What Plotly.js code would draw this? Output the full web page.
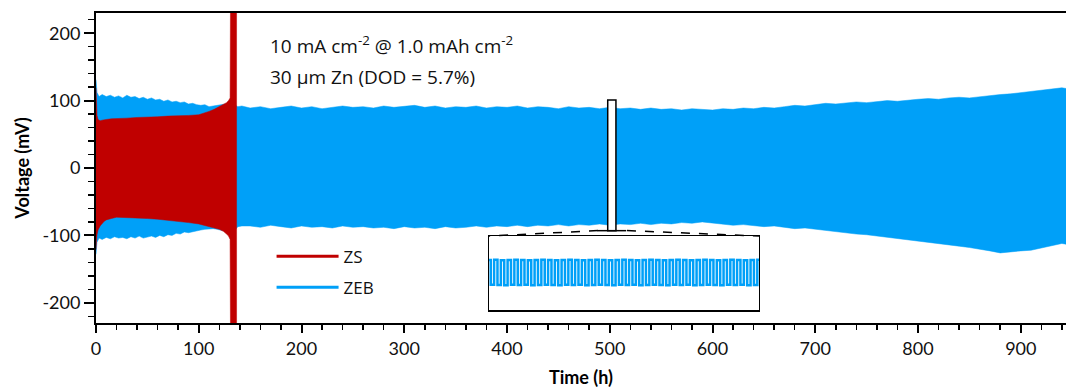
<!DOCTYPE html>
<html>
<head>
<meta charset="utf-8">
<script src="https://cdn.plot.ly/plotly-3.0.1.min.js"></script>
<style>html,body{margin:0;padding:0;background:#fff}#chart{width:1066px;height:389px}</style>
</head>
<body>
<div id="chart"></div>
<script>
// ---- Data ----
// ZEB (blue) envelope: time (h), upper and lower voltage (mV)
const zebTime = [0,1,3,6,10,14,18,22,26,30,34,38,42,46,50,54,58,62,66,70,74,78,82,86,90,94,98,102,106,110,114,118,122,126,130,134,138,142,
  150,160,170,180,190,200,210,220,230,240,250,260,270,280,290,300,310,320,330,340,350,360,370,380,390,400,410,420,430,440,450,460,470,480,490,500,
  510,520,530,540,550,560,570,580,590,600,610,620,630,640,650,660,670,680,690,700,710,720,730,740,750,760,770,780,790,800,810,820,830,840,850,860,
  870,880,890,900,910,920,930,940,944];
const zebUpper = [131,112,106,109,106,108,105,107,104,108,105,106,103,105,102,104,101,102,99,101,98,99,97,98,95,96,94,93,94,91,92,93,94,95,96,95,91,92,
  89,91,88,90,92,89,91,88,90,92,90,91,89,92,90,91,93,90,92,89,91,90,92,89,91,90,92,89,91,90,88,91,89,90,88,90,
  88,89,87,89,87,88,86,88,87,86,88,87,89,88,90,89,91,93,92,94,96,95,97,98,97,99,100,99,101,102,103,102,104,105,104,106,
  108,109,110,112,113,115,117,119,118];
const zebLower = [-128,-110,-104,-106,-103,-105,-102,-104,-103,-105,-102,-104,-101,-104,-103,-101,-103,-100,-102,-99,-100,-97,-98,-95,-96,-94,-93,-92,-91,-90,-90,-91,-92,-94,-96,-95,-87,-86,
  -86,-88,-85,-87,-89,-86,-88,-87,-89,-86,-88,-87,-89,-88,-90,-87,-89,-88,-90,-87,-89,-88,-86,-88,-86,-87,-85,-87,-85,-86,-84,-86,-84,-85,-83,-85,
  -83,-84,-82,-84,-82,-83,-81,-82,-80,-82,-83,-85,-84,-86,-87,-86,-88,-90,-89,-91,-93,-95,-96,-98,-99,-101,-103,-104,-106,-108,-110,-112,-114,-116,-118,-120,
  -123,-126,-125,-123,-122,-118,-115,-112,-113];

// ZS (red) envelope: time (h), upper and lower voltage (mV); short-circuit spike near 131-137 h
const zsTime  = [0,0.5,1,2,4,6,8,10,15,20,25,30,40,50,60,70,80,90,100,105,110,115,120,124,127,129,130.5,131.3,136.8];
const zsUpper = [119,95,78,72,70,71,72,72,73,73,74,74,75,75,76,77,77,78,79,81,84,87,91,94,97,100,104,400,400];
const zsLower = [-121,-108,-99,-92,-86,-82,-79,-77,-75,-73,-73,-74,-74,-75,-76,-77,-79,-81,-83,-85,-87,-89,-91,-94,-98,-101,-106,-400,-400];

// Inset: zoomed ZEB window (h) and voltage samples every 0.1 h (mV)
const insetWindow = [498, 506];
const insetWindowV = [-93, 101];
const insetStep = 0.1;
const insetV = [88,-87,89,-88,87,-89,88,-87,89,-88,88,-87,87,-89,88,-88,89,-87,88,-88,87,-89,88,-87,89,-88,88,-87,87,-89,
  88,-88,89,-87,88,-88,87,-89,88,-87,89,-88,88,-87,87,-89,88,-88,89,-87,88,-88,87,-89,88,-87,89,-88,88,-87,
  87,-89,88,-88,89,-87,88,-88,87,-89,88,-87,89,-88,88,-87,87,-89,88,-88,89];

// Tick labels
const xTickVals = [0,100,200,300,400,500,600,700,800,900];
const xTickText = ['0','100','200','300','400','500','600','700','800','900'];
const yTickVals = [-200,-100,0,100,200];
const yTickText = ['-200','-100','0','100','200'];

const seriesNames = ['ZS', 'ZEB'];
const noteLines = ['10 mA cm<sup>-2</sup> @ 1.0 mAh cm<sup>-2</sup>', '30 µm Zn (DOD = 5.7%)'];

// ---- Styling ----
const RED = '#C00000', BLUE = '#00A0F8';
const FONT = 'Lato, "Open Sans", sans-serif';
const NOTEFONT = '"Open Sans", Lato, sans-serif';

function band(t, up, lo) {
  return { x: t.concat(t.slice().reverse()), y: up.concat(lo.slice().reverse()) };
}
const zebBand = band(zebTime, zebUpper, zebLower);
const zsBand = band(zsTime, zsUpper, zsLower);

const traces = [
  { x: zebBand.x, y: zebBand.y, type: 'scatter', mode: 'lines', fill: 'toself',
    fillcolor: BLUE, line: { color: BLUE, width: 0.5 }, showlegend: false, hoverinfo: 'skip' },
  { x: zsBand.x, y: zsBand.y, type: 'scatter', mode: 'lines', fill: 'toself',
    fillcolor: RED, line: { color: RED, width: 0.5 }, showlegend: false, hoverinfo: 'skip' },
  { x: [null], y: [null], type: 'scatter', mode: 'lines', name: seriesNames[0],
    line: { color: RED, width: 3 }, legendgroup: 'a' },
  { x: [null], y: [null], type: 'scatter', mode: 'lines', name: seriesNames[1],
    line: { color: BLUE, width: 3 }, legendgroup: 'b' },
  { x0: insetWindow[0], dx: insetStep, y: insetV, type: 'scatter', mode: 'lines',
    xaxis: 'x2', yaxis: 'y2', line: { color: BLUE, width: 2.5, shape: 'hvh' }, showlegend: false, hoverinfo: 'skip' }
];

const layout = {
  width: 1066, height: 389,
  margin: { l: 96, r: 0, t: 13, b: 66 },
  paper_bgcolor: '#fff', plot_bgcolor: '#fff',
  font: { family: FONT, size: 18, color: '#111' },
  showlegend: true,
  legend: { x: 0.181, y: 0.272, xanchor: 'left', yanchor: 'top', bgcolor: 'rgba(0,0,0,0)',
            font: { family: NOTEFONT, size: 17, color: '#111' }, itemwidth: 62, traceorder: 'grouped', tracegroupgap: 6 },
  xaxis: {
    domain: [0, 1], range: [0, 944], tickmode: 'array', tickvals: xTickVals, ticktext: xTickText,
    ticks: 'outside', ticklen: 8, tickwidth: 2,
    tickcolor: '#000', showline: true, linewidth: 2, linecolor: '#000', mirror: true,
    showgrid: false, zeroline: false, tickfont: { family: FONT, size: 18, color: '#111' },
    minor: { dtick: 20, tick0: 0, ticks: 'outside', ticklen: 5, tickwidth: 1.5, tickcolor: '#000', showgrid: false },
    title: { text: '<b>Time (h)</b>', font: { family: FONT, size: 18, color: '#000' }, standoff: 14 }
  },
  yaxis: {
    range: [-230, 230], tickmode: 'array', tickvals: yTickVals, ticktext: yTickText,
    ticks: 'outside', ticklen: 10, tickwidth: 2,
    tickcolor: '#000', showline: true, linewidth: 2, linecolor: '#000', mirror: false,
    showgrid: false, zeroline: false, tickfont: { family: FONT, size: 18, color: '#111' },
    minor: { dtick: 20, tick0: 0, ticks: 'outside', ticklen: 6, tickwidth: 1.5, tickcolor: '#000', showgrid: false },
    title: { text: '<b>Voltage (mV)</b>', font: { family: FONT, size: 18, color: '#000' }, standoff: 8 }
  },
  xaxis2: {
    domain: [0.4052, 0.6835], anchor: 'y2', range: insetWindow, showticklabels: false, ticks: '',
    showline: true, mirror: true, linewidth: 1.5, linecolor: '#000', showgrid: false, zeroline: false
  },
  yaxis2: {
    domain: [0.0419, 0.2806], anchor: 'x2', range: [-264, 257], showticklabels: false, ticks: '',
    showline: true, mirror: true, linewidth: 1.5, linecolor: '#000', showgrid: false, zeroline: false
  },
  shapes: [
    { type: 'rect', xref: 'x', yref: 'y', x0: insetWindow[0], x1: insetWindow[1], y0: insetWindowV[0], y1: insetWindowV[1],
      line: { color: '#000', width: 1.5 }, fillcolor: 'rgba(255,255,255,1)' },
    { type: 'line', xref: 'x', yref: 'y', x0: insetWindow[0] - 10, x1: insetWindow[1] + 10, y0: insetWindowV[0], y1: insetWindowV[0],
      line: { color: '#000', width: 1.5 } },
    { type: 'line', xref: 'paper', yref: 'paper', x0: 0.5175, y0: 0.298, x1: 0.4052, y1: 0.2806,
      line: { color: '#000', width: 1.5, dash: 'dash' } },
    { type: 'line', xref: 'paper', yref: 'paper', x0: 0.5474, y0: 0.298, x1: 0.6835, y1: 0.2806,
      line: { color: '#000', width: 1.5, dash: 'dash' } }
  ],
  annotations: [
    { xref: 'paper', yref: 'paper', x: 0.1773, y: 0.897, xanchor: 'left', yanchor: 'middle', showarrow: false,
      text: noteLines[0], font: { family: NOTEFONT, size: 19, color: '#111' } },
    { xref: 'paper', yref: 'paper', x: 0.1773, y: 0.794, xanchor: 'left', yanchor: 'middle', showarrow: false,
      text: noteLines[1], font: { family: NOTEFONT, size: 19, color: '#111' } }
  ]
};

Plotly.newPlot('chart', traces, layout, { displayModeBar: false, staticPlot: true });
</script>
</body>
</html>
